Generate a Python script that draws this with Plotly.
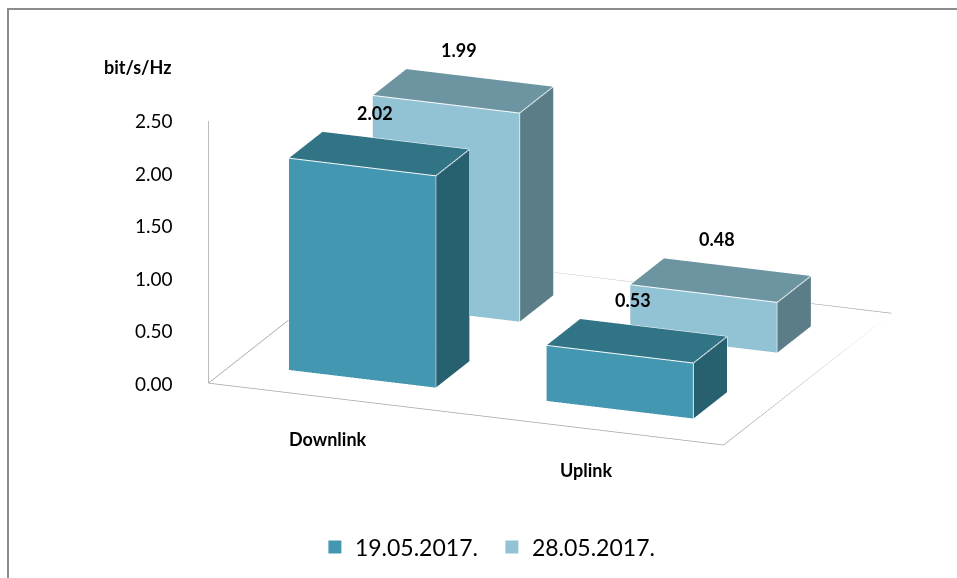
import plotly.graph_objects as go

# ---------------- data ----------------
categories = ["Downlink", "Uplink"]
series_names = ["19.05.2017.", "28.05.2017."]
values_1905 = [2.02, 0.53]
values_2805 = [1.99, 0.48]
tick_values = [0.0, 0.5, 1.0, 1.5, 2.0, 2.5]
axis_title = "bit/s/Hz"

series_values = [values_1905, values_2805]

# ---------------- styles ----------------
FONT = "Lato"
face_colors = [
    dict(front="#4397B0", top="#317486", side="#27616F"),
    dict(front="#92C3D5", top="#6C94A1", side="#5B7D87"),
]
BAR_HALF_W = 0.285   # half bar width (category units)
BAR_HALF_D = 0.20    # half bar depth (series-row units)
X_RANGE = [-0.5, len(categories) - 0.5]
Y_RANGE = [-0.5, len(series_names) - 0.5]
Z_RANGE = [tick_values[0], tick_values[-1]]

FACES = [
    (0, 1, 2, "side"), (0, 2, 3, "side"),      # bottom
    (4, 5, 6, "top"), (4, 6, 7, "top"),        # top
    (0, 1, 5, "front"), (0, 5, 4, "front"),    # front
    (3, 2, 6, "side"), (3, 6, 7, "side"),      # back
    (0, 3, 7, "side"), (0, 7, 4, "side"),      # left
    (1, 2, 6, "side"), (1, 6, 5, "side"),      # right
]
EDGES = [(0, 1), (1, 2), (2, 3), (3, 0), (4, 5), (5, 6), (6, 7), (7, 4),
         (0, 4), (1, 5), (2, 6), (3, 7)]


def box_vertices(xc, yc, h):
    x0, x1 = xc - BAR_HALF_W, xc + BAR_HALF_W
    y0, y1 = yc - BAR_HALF_D, yc + BAR_HALF_D
    X = [x0, x1, x1, x0, x0, x1, x1, x0]
    Y = [y0, y0, y1, y1, y0, y0, y1, y1]
    Z = [0, 0, 0, 0, h, h, h, h]
    return X, Y, Z


fig = go.Figure()

edge_x, edge_y, edge_z = [], [], []
for s_idx, vals in enumerate(series_values):
    X, Y, Z, I, J, K, FC = [], [], [], [], [], [], []
    for c_idx, v in enumerate(vals):
        bx, by, bz = box_vertices(c_idx, s_idx, v)
        off = len(X)
        X += bx; Y += by; Z += bz
        for a, b, c, kind in FACES:
            I.append(a + off); J.append(b + off); K.append(c + off)
            FC.append(face_colors[s_idx][kind])
        for a, b in EDGES:
            edge_x += [bx[a], bx[b], None]
            edge_y += [by[a], by[b], None]
            edge_z += [bz[a], bz[b], None]
    fig.add_trace(go.Mesh3d(
        x=X, y=Y, z=Z, i=I, j=J, k=K, facecolor=FC, flatshading=True,
        lighting=dict(ambient=1.0, diffuse=0.0, specular=0.0, roughness=1.0, fresnel=0.0),
        hoverinfo="skip", showlegend=False, name=series_names[s_idx],
    ))

# white bevel edges of bars
fig.add_trace(go.Scatter3d(x=edge_x, y=edge_y, z=edge_z, mode="lines",
                           line=dict(color="white", width=2),
                           hoverinfo="skip", showlegend=False))

# floor outline and vertical axis line
fx = [X_RANGE[0], X_RANGE[1], X_RANGE[1], X_RANGE[0], X_RANGE[0], None, X_RANGE[0], X_RANGE[0]]
fy = [Y_RANGE[0], Y_RANGE[0], Y_RANGE[1], Y_RANGE[1], Y_RANGE[0], None, Y_RANGE[0], Y_RANGE[0]]
fz = [0, 0, 0, 0, 0, None, Z_RANGE[0], Z_RANGE[1]]
fig.add_trace(go.Scatter3d(x=fx, y=fy, z=fz, mode="lines",
                           line=dict(color="#A6A6A6", width=1.5),
                           hoverinfo="skip", showlegend=False))

# legend entries
for s_idx, name in enumerate(series_names):
    fig.add_trace(go.Scatter(x=[None], y=[None], mode="markers", name=name,
                             marker=dict(symbol="square", size=13,
                                         color=face_colors[s_idx]["front"])))

# scene annotations: ticks, data labels, category labels
scene_ann = []
for t in tick_values:
    scene_ann.append(dict(x=X_RANGE[0], y=Y_RANGE[0], z=t, text=f"{t:.2f}",
                          showarrow=False, xanchor="right", yanchor="middle",
                          xshift=-33, font=dict(family=FONT, size=19, color="#000")))
for s_idx, vals in enumerate(series_values):
    for c_idx, v in enumerate(vals):
        scene_ann.append(dict(x=c_idx, y=s_idx, z=v, text=f"<b>{v:.2f}</b>",
                              showarrow=False, xanchor="center", yanchor="middle",
                              xshift=-4, yshift=41,
                              font=dict(family=FONT, size=18, color="#000")))
for c_idx, cat in enumerate(categories):
    scene_ann.append(dict(x=c_idx, y=Y_RANGE[0], z=0, text=f"<b>{cat}</b>",
                          showarrow=False, xanchor="center", yanchor="middle",
                          xshift=-9, yshift=-40,
                          font=dict(family=FONT, size=18, color="#000")))

hidden = dict(visible=False, showgrid=False, zeroline=False, showline=False,
              showticklabels=False, showbackground=False, showspikes=False, title="")

fig.update_layout(
    width=957, height=578,
    margin=dict(l=0, r=0, t=0, b=0),
    paper_bgcolor="white", plot_bgcolor="white",
    font=dict(family=FONT, color="#000"),
    xaxis=dict(visible=False), yaxis=dict(visible=False),
    scene=dict(
        domain=dict(x=[0, 1], y=[0, 1]),
        xaxis=dict(range=X_RANGE, **hidden),
        yaxis=dict(range=Y_RANGE, **hidden),
        zaxis=dict(range=Z_RANGE, **hidden),
        aspectmode="manual",
        aspectratio=dict(x=1.9143, y=1.5936, z=0.9532),
        camera=dict(projection=dict(type="orthographic"),
                    up=dict(x=0, y=0, z=1),
                    center=dict(x=-0.20226, y=-0.16118, z=-0.23675),
                    eye=dict(x=0.83748, y=-2.82005, z=0.68506)),
        bgcolor="white",
        annotations=scene_ann,
    ),
    legend=dict(orientation="h", x=0.514, y=0.0536, xanchor="center", yanchor="middle",
                entrywidth=132, entrywidthmode="pixels",
                font=dict(family=FONT, size=23, color="#000"), bgcolor="rgba(0,0,0,0)"),
    annotations=[dict(xref="paper", yref="paper", x=137 / 957, y=1 - 67 / 578,
                      text=f"<b>{axis_title}</b>", showarrow=False,
                      xanchor="center", yanchor="middle",
                      font=dict(family=FONT, size=18, color="#000"))],
    shapes=[dict(type="rect", xref="paper", yref="paper",
                 x0=8 / 957, x1=1.05, y0=-0.05, y1=1 - 9 / 578,
                 line=dict(color="#8C8C8C", width=2), fillcolor="rgba(0,0,0,0)")],
)

fig.write_html("out.html", config={"displayModeBar": False},
               post_script="document.body.style.margin='0';document.body.style.overflow='hidden';")
